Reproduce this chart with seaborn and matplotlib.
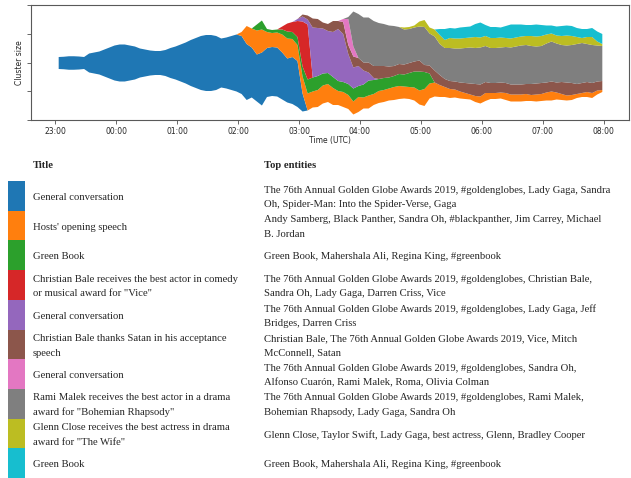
import numpy as np
import pandas as pd
import matplotlib
matplotlib.use("Agg")
import matplotlib.pyplot as plt
import matplotlib.dates as mdates
from matplotlib.patches import Rectangle
import seaborn as sns

# tweet clusters per 5-minute bin (Golden Globes night, UTC)
t_first = "2019-01-06 23:03"
n_bins = 108

general_1 = [12, 12.5, 13.5, 13.5, 13, 12, 19, 21, 23, 27,
             31, 35, 37, 37, 35, 33, 29, 27, 25, 24,
             24, 26, 30, 33, 37, 41, 46, 50, 54, 56,
             56, 54, 49, 51, 54, 57, 58, 56, 50, 47,
             53, 49, 49, 49, 47, 44, 47, 46, 18]
general_1_start = "2019-01-06 23:03"

hosts_speech = [4, 18, 19, 24, 23, 16, 14, 15, 18, 20,
                18, 16, 17, 17, 16, 17, 18, 18, 17, 14,
                15, 14, 13, 15, 11, 13, 11, 12, 12, 12,
                13, 13, 12, 12, 13, 14, 17, 15, 14, 12,
                10, 9, 8, 7, 6, 5, 6, 7, 8, 6,
                6, 6, 7, 7, 7, 7, 7, 6, 7, 7,
                8, 9, 7, 6, 5, 5, 4, 4, 5, 5,
                4, 2]
hosts_speech_start = "2019-01-07 02:03"

green_book_1 = [6, 9, 3, 3, 3, 5, 7, 7, 8, 10,
                14, 14, 14, 12, 11, 11, 10, 10, 11, 13,
                11, 13, 15, 14, 12, 12, 11, 11, 12, 12,
                14, 16, 19, 17, 10]
green_book_1_start = "2019-01-07 02:18"

bale_vice = [3, 8, 10, 16, 45, 55]
bale_vice_start = "2019-01-07 02:43"

general_2 = [2, 5, 5, 50, 48, 45, 42, 45, 52, 48,
             30, 21, 20, 14, 8, 2]
general_2_start = "2019-01-07 02:58"

bale_satan = [2, 4, 9, 9, 6, 7, 11, 8, 12, 9,
              11, 8, 8, 10, 12, 13, 12, 11, 10, 10,
              10, 10, 10, 11, 7, 8, 12, 10, 8, 8,
              8, 9, 10, 11, 12, 12, 11, 10, 10, 10,
              10, 10, 10, 10, 10, 11, 11, 11, 10, 10,
              10, 12, 13, 12, 10, 10, 10, 10, 9, 9]
bale_satan_start = "2019-01-07 03:03"

general_3 = [3, 26, 10]
general_3_start = "2019-01-07 03:43"

malek = [2, 35, 44, 45, 45, 45, 43, 42, 41, 40,
         37, 35, 34, 34, 34, 38, 32, 34, 31, 31,
         33, 33, 34, 35, 36, 36, 37, 36, 35, 35,
         35, 36, 37, 38, 39, 39, 38, 37, 37, 39,
         40, 39, 37, 37, 38, 40, 40, 38, 38, 36,
         35]
malek_start = "2019-01-07 03:48"

glenn_close = [2, 2, 2, 5, 7, 6, 7, 9, 8, 10,
               10, 10, 10, 10, 11, 10, 10, 10, 10, 10,
               9, 9, 9, 9, 9, 10, 10, 10, 9, 8,
               8, 9, 10, 9, 7, 5, 7, 8, 4, 2]
glenn_close_start = "2019-01-07 04:43"

green_book_2 = [6, 11, 10, 10, 11, 11, 11, 13, 15, 11,
                11, 11, 10, 12, 14, 13, 12, 11, 11, 12,
                11, 9, 8, 9, 10, 10, 10, 9, 9, 8,
                9, 10, 10]
green_book_2_start = "2019-01-07 05:18"

titles = [
    "General conversation",
    "Hosts' opening speech",
    "Green Book",
    "Christian Bale receives the best actor in comedy\nor musical award for \"Vice\"",
    "General conversation",
    "Christian Bale thanks Satan in his acceptance\nspeech",
    "General conversation",
    "Rami Malek receives the best actor in a drama\naward for \"Bohemian Rhapsody\"",
    "Glenn Close receives the best actress in drama\naward for \"The Wife\"",
    "Green Book",
]
entities = [
    "The 76th Annual Golden Globe Awards 2019, #goldenglobes, Lady Gaga, Sandra\nOh, Spider-Man: Into the Spider-Verse, Gaga",
    "Andy Samberg, Black Panther, Sandra Oh, #blackpanther, Jim Carrey, Michael\nB. Jordan",
    "Green Book, Mahershala Ali, Regina King, #greenbook",
    "The 76th Annual Golden Globe Awards 2019, #goldenglobes, Christian Bale,\nSandra Oh, Lady Gaga, Darren Criss, Vice",
    "The 76th Annual Golden Globe Awards 2019, #goldenglobes, Lady Gaga, Jeff\nBridges, Darren Criss",
    "Christian Bale, The 76th Annual Golden Globe Awards 2019, Vice, Mitch\nMcConnell, Satan",
    "The 76th Annual Golden Globe Awards 2019, #goldenglobes, Sandra Oh,\nAlfonso Cuarón, Rami Malek, Roma, Olivia Colman",
    "The 76th Annual Golden Globe Awards 2019, #goldenglobes, Rami Malek,\nBohemian Rhapsody, Lady Gaga, Sandra Oh",
    "Glenn Close, Taylor Swift, Lady Gaga, best actress, Glenn, Bradley Cooper",
    "Green Book, Mahershala Ali, Regina King, #greenbook",
]

times = pd.date_range(t_first, periods=n_bins, freq="5min")


def full_series(vals, start):
    i = int((pd.Timestamp(start) - times[0]) / pd.Timedelta("5min"))
    out = np.zeros(n_bins)
    out[i:i + len(vals)] = vals
    return out


series = [
    full_series(general_1, general_1_start),
    full_series(hosts_speech, hosts_speech_start),
    full_series(green_book_1, green_book_1_start),
    full_series(bale_vice, bale_vice_start),
    full_series(general_2, general_2_start),
    full_series(bale_satan, bale_satan_start),
    full_series(general_3, general_3_start),
    full_series(malek, malek_start),
    full_series(glenn_close, glenn_close_start),
    full_series(green_book_2, green_book_2_start),
]

sns.set_style("ticks")
palette = sns.color_palette("tab10", 10)

W, H = 631, 478
fig = plt.figure(figsize=(W / 100, H / 100), dpi=100)

# stream graph
ax = fig.add_axes([31 / W, 1 - 120 / H, (629 - 31) / W, 115 / H])
ax.stackplot(times, *series, colors=palette, baseline="sym", linewidth=0)
lim = 57.5
ax.set_ylim(-lim, lim)
ax.set_yticks(np.linspace(-lim, lim, 5))
ax.set_yticklabels([])
ax.xaxis.set_major_locator(mdates.HourLocator())
ax.xaxis.set_major_formatter(mdates.DateFormatter("%H:%M"))
ax.tick_params(labelsize=5.5, length=3, width=0.6, color="0.3", pad=2)
for s in ax.spines.values():
    s.set_linewidth(0.8)
    s.set_color("0.35")
ax.set_xlabel("Time (UTC)", fontsize=5.5, labelpad=0)
ax.set_ylabel("Cluster size", fontsize=5.5, labelpad=0)

# legend table below the chart
tab = fig.add_axes([0, 0, 1, 1])
tab.set_xlim(0, W)
tab.set_ylim(H, 0)
tab.axis("off")

serif = "Liberation Serif"
fs = 7.7
line_gap = 14.6
tab.text(33, 166, "Title", fontsize=fs, fontweight="bold", family=serif, va="center")
tab.text(264, 166, "Top entities", fontsize=fs, fontweight="bold", family=serif, va="center")

row_top, row_h = 181, 29.7
for i, (title, ent) in enumerate(zip(titles, entities)):
    y0 = row_top + i * row_h
    tab.add_patch(Rectangle((8, y0), 17, row_h, color=palette[i], lw=0))
    yc = y0 + row_h / 2 + 1.5
    for x, txt in ((33, title), (264, ent)):
        lines = txt.split("\n")
        for j, line in enumerate(lines):
            y = yc + (j - (len(lines) - 1) / 2) * line_gap
            tab.text(x, y, line, fontsize=fs, family=serif, va="center")

fig.savefig("out.png", dpi=100)
